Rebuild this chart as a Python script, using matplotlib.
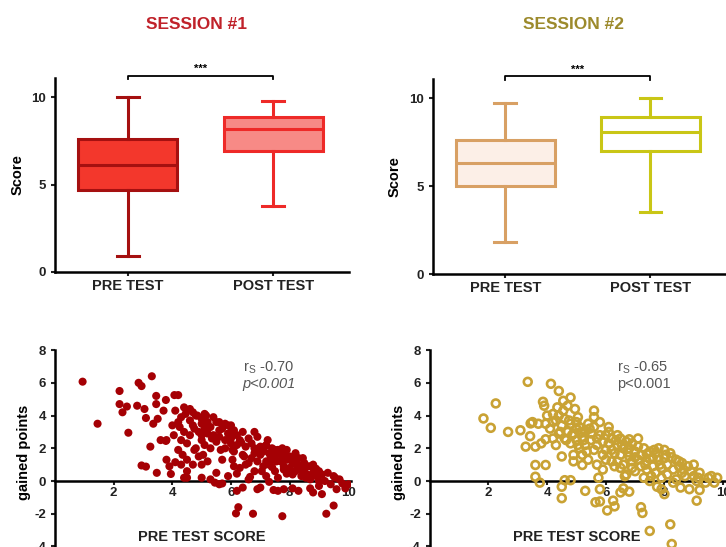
import matplotlib
matplotlib.use("Agg")
import matplotlib.pyplot as plt

plt.rcParams["font.family"] = ["Liberation Sans", "DejaVu Sans"]
plt.rcParams["axes.unicode_minus"] = False

# box summaries: whisker low, Q1, median, Q3, whisker high
groups = ["PRE TEST", "POST TEST"]
s1_pre = [0.9, 4.7, 6.1, 7.6, 10.0]
s1_post = [3.8, 6.9, 8.2, 8.9, 9.8]
s2_pre = [1.8, 5.0, 6.3, 7.6, 9.7]
s2_post = [3.5, 7.0, 8.1, 8.9, 10.0]

# session 1 scatter: pre test score vs gained points
pre1 = [0.94, 1.45, 2.2, 2.2, 2.3, 2.45, 2.5, 2.8, 2.85, 2.95, 3.05, 3.1, 2.95, 3.1, 3.25, 3.3,
        3.35, 3.45, 3.45, 3.5, 3.47, 3.6, 3.7, 3.78, 3.78, 3.8, 3.95, 4.07, 4.2, 4.0, 4.05, 4.1,
        4.1, 4.2, 4.25, 4.4, 4.45, 4.3, 4.35, 4.5, 4.5, 4.6, 4.7, 4.75, 4.75, 4.85, 5.0, 5.0,
        5.0, 5.05, 5.1, 5.2, 5.15, 5.35, 5.45, 5.5, 5.6, 5.65, 5.7, 5.8, 5.9, 6.0, 6.0, 6.05,
        6.05, 6.1, 6.2, 6.2, 6.17, 6.25, 6.35, 6.45, 6.6, 6.65, 6.75, 6.8, 6.8, 6.9, 7.0, 7.05,
        7.15, 7.2, 7.25, 7.3, 7.35, 7.4, 7.45, 7.5, 7.55, 7.75, 7.75, 7.8, 7.85, 7.9, 8.1, 8.15,
        8.25, 8.4, 8.45, 8.55, 8.6, 8.7, 8.8, 8.9, 9.0, 9.1, 9.25, 9.5, 9.55, 9.6, 9.8, 9.9, 10.0,
        4.3, 4.4, 4.5, 4.5, 4.6, 4.6, 4.7, 4.7, 4.8, 4.8, 4.9, 4.9, 5.0, 5.0, 5.1, 5.1, 5.2, 5.2,
        5.3, 5.3, 5.4, 5.4, 5.5, 5.5, 5.6, 5.6, 5.7, 5.7, 5.8, 5.8, 5.9, 5.9, 6.0, 6.0, 6.1, 6.1,
        6.2, 6.2, 6.3, 6.3, 6.4, 6.4, 6.5, 6.5, 6.6, 6.6, 6.7, 6.7, 6.8, 6.8, 6.9, 6.9, 7.0, 7.0,
        7.1, 7.1, 7.2, 7.2, 7.3, 7.3, 7.4, 7.4, 7.5, 7.5, 7.6, 7.6, 7.7, 7.7, 7.8, 7.8, 7.9, 7.9,
        8.0, 8.0, 8.1, 8.1, 8.2, 8.2, 8.3, 8.3, 8.4, 8.5, 8.5, 8.6, 8.7, 8.7, 8.8, 8.9, 9.0, 9.0,
        9.1, 9.2, 9.3, 9.4, 9.5, 9.7, 4.2, 4.3, 4.4, 3.9, 3.8, 5.0, 5.3, 5.6, 6.4, 6.9, 7.6, 8.3, 8.8]
gain1 = [6.07, 3.5, 5.5, 4.7, 4.2, 4.55, 2.95, 4.6, 6.0, 5.8, 4.4, 3.85, 0.95, 0.88, 2.1, 6.4,
         3.5, 5.2, 4.7, 3.8, 0.5, 2.5, 4.3, 4.95, 2.45, 1.3, 0.43, 5.25, 5.25, 3.4, 2.8, 4.3,
         1.15, 1.9, 3.3, 4.5, 4.1, 2.5, 1.6, 0.6, 0.2, 3.7, 4.2, 3.2, 1.9, 4.0, 3.8, 2.5,
         0.2, 1.6, 3.2, 2.9, 4.0, 2.6, -0.1, 3.6, 3.1, 1.9, -0.15, 2.5, 3.4, 3.0, 2.3, 1.9,
         1.3, 0.9, -0.6, 0.45, -1.98, -1.6, 2.35, 1.5, 1.1, 0.25, -2.0, 3.0, 1.7, 1.9, -0.4, 0.6,
         2.1, 1.2, 2.5, -0.05, 1.5, 0.85, -0.55, 1.9, 1.2, -2.15, 2.0, 0.7, 1.6, 0.45, -0.45, 1.3,
         0.9, 0.7, 1.4, 0.2, 0.9, -0.45, 0.5, 0.75, 0.0, -0.8, -2.0, -1.5, 0.2, -0.5, -0.15, -0.45, -0.2,
         3.9, 3.0, 2.3, 1.3, 4.4, 2.8, 1.0, 3.4, 2.0, 4.0, 3.0, 1.5, 3.5, 2.8, 4.1, 2.2, 3.6, 1.2,
         3.3, 2.0, 2.8, 3.9, 2.4, 0.5, 3.6, 2.7, 3.2, 1.3, 3.5, 2.0, 2.9, 0.3, 3.4, 2.6, 3.1, 1.8,
         2.8, 2.2, 2.5, 0.8, 3.0, 1.6, 2.1, 1.0, 2.6, 0.1, 1.4, 2.3, 2.0, 0.6, 1.2, 2.7, 2.1, 1.6,
         0.9, 1.8, 2.2, 0.3, 1.7, 1.0, 1.3, 2.0, 0.6, 1.5, 1.9, 0.2, 1.2, 1.6, 0.9, -0.5, 1.3, 1.9,
         0.8, 1.5, 0.4, 1.1, 1.7, 0.6, 1.0, 1.4, 0.3, 1.1, 0.6, 0.4, 0.9, 0.1, 1.0, 0.3, 0.6, -0.3,
         0.4, 0.0, 0.5, -0.2, 0.3, 0.1, 3.6, 1.0, 0.2, 0.9, 2.5, 1.0, 0.1, -0.2, -0.4, -0.5, -0.6, -0.6, -0.7]

# session 2 scatter
pre2 = [1.83, 2.08, 2.25, 2.67, 3.09, 3.27, 3.34, 3.44, 3.42, 3.6, 3.6, 3.6, 3.75, 3.86, 3.9, 3.95,
        3.95, 3.95, 4.13, 4.2, 4.3, 4.35, 4.4, 4.45, 4.5, 4.55, 4.55, 4.5, 4.6, 4.65, 4.75, 4.8,
        4.8, 4.85, 4.9, 4.95, 5.0, 5.05, 5.05, 5.15, 5.2, 5.25, 5.35, 5.45, 5.6, 5.6, 5.65, 5.7,
        5.75, 5.8, 5.8, 5.9, 6.0, 6.05, 6.1, 6.2, 6.25, 6.3, 6.35, 6.4, 6.5, 6.55, 6.6, 6.65,
        6.75, 6.8, 6.8, 6.9, 7.0, 7.1, 7.2, 7.25, 7.35, 7.4, 7.5, 7.5, 7.55, 7.65, 7.75, 7.85,
        8.0, 8.05, 8.2, 8.25, 8.25, 8.3, 8.5, 8.55, 8.6, 8.65, 8.85, 9.0, 9.1, 9.15, 9.2,
        4.0, 4.1, 4.2, 4.2, 4.3, 4.4, 4.4, 4.5, 4.5, 4.6, 4.6, 4.7, 4.7, 4.8, 4.8, 4.9, 4.9, 5.0,
        5.0, 5.1, 5.1, 5.2, 5.2, 5.3, 5.3, 5.4, 5.4, 5.5, 5.5, 5.6, 5.6, 5.7, 5.7, 5.8, 5.8, 5.9,
        5.9, 6.0, 6.0, 6.1, 6.1, 6.2, 6.2, 6.3, 6.3, 6.4, 6.4, 6.5, 6.5, 6.6, 6.6, 6.7, 6.7, 6.8,
        6.8, 6.9, 6.9, 7.0, 7.0, 7.1, 7.1, 7.2, 7.2, 7.3, 7.3, 7.4, 7.4, 7.5, 7.5, 7.6, 7.6, 7.7,
        7.7, 7.8, 7.8, 7.9, 7.9, 8.0, 8.0, 8.1, 8.1, 8.2, 8.3, 8.4, 8.4, 8.5, 8.6, 8.7, 8.8, 8.9,
        9.0, 9.1, 9.2, 9.4, 9.5, 9.6, 9.8, 9.7, 3.7, 3.5, 3.8, 5.3, 6.5, 7.9]
gain2 = [3.82, 3.25, 4.74, 3.0, 3.1, 2.1, 6.06, 3.52, 2.74, 2.1, 0.98, 0.26, -0.1, 4.84, 4.6, 3.5,
         0.98, 2.55, 5.94, 4.1, 3.7, 4.5, 5.5, 3.0, -0.35, 4.3, 4.9, -1.05, 0.05, 2.5, 3.7, 5.1,
         0.05, 2.8, 1.6, 4.4, 3.2, 2.2, 3.9, 3.0, 0.98, 2.5, 1.8, 3.2, 3.9, 4.3, -1.3, 2.6,
         0.2, -0.5, -1.25, 1.6, 1.9, -1.8, 3.0, 1.2, -1.2, -1.55, 2.5, 2.8, 0.8, 2.2, -0.45, 0.3,
         1.75, 2.55, -0.65, 0.8, 1.45, 2.6, -1.6, -1.95, 1.0, 1.65, 1.35, -3.05, 0.3, 1.9, -0.35, 1.0,
         -0.8, 1.6, -2.65, -3.85, 1.45, -0.1, 1.2, -0.4, 0.5, 0.7, -0.5, 0.3, -1.2, 0.2, -0.55,
         4.0, 3.2, 2.6, 3.6, 2.2, 4.0, 2.9, 3.4, 1.5, 3.8, 2.6, 3.0, 4.6, 2.3, 3.5, 2.9, 1.2, 3.6,
         2.5, 2.0, 3.3, 2.7, 1.6, 3.0, 2.2, 3.5, 1.3, 2.5, 2.9, 1.9, 3.3, 2.2, 1.0, 2.8, 3.6, 2.4,
         0.7, 2.8, 1.3, 2.3, 3.3, 1.9, 2.6, 0.9, 1.7, 2.2, 1.2, 2.6, 1.6, 1.0, 2.0, 2.4, 0.4, 1.5,
         2.0, 1.2, 2.3, 1.8, 0.6, 1.3, 2.1, 0.9, 1.6, 2.0, 0.2, 1.2, 0.7, 1.8, 0.0, 1.4, 0.9, 1.7,
         0.5, 1.3, 2.0, 0.8, 0.2, 1.4, 1.9, 1.0, 0.4, 1.7, 0.7, 1.3, 0.1, 0.9, 1.1, 0.3, 0.9, 0.6,
         1.0, 0.0, 0.5, -0.1, 0.2, 0.3, 0.2, -0.1, 3.5, 3.6, 2.3, -0.6, -0.7, -0.5]

RED_TITLE = "#c0222a"
GOLD_TITLE = "#9c8a2c"

fig = plt.figure(figsize=(7.26, 5.47), dpi=100)


def style_axes(ax):
    for side in ["top", "right"]:
        ax.spines[side].set_visible(False)
    for side in ["left", "bottom"]:
        ax.spines[side].set_linewidth(1.8)
    ax.tick_params(direction="out", length=3, width=1.5, labelsize=9.5, colors="#222222")
    for lab in ax.get_xticklabels() + ax.get_yticklabels():
        lab.set_fontweight("bold")


def box_panel(rect, pre, post, faces, edges):
    ax = fig.add_axes(rect)
    stats = []
    for name, s in zip(groups, [pre, post]):
        stats.append(dict(label=name, whislo=s[0], q1=s[1], med=s[2], q3=s[3], whishi=s[4]))
    parts = ax.bxp(stats, positions=[1, 2], widths=0.68, capwidths=0.15, patch_artist=True,
                   showfliers=False)
    for i in range(2):
        parts["boxes"][i].set_facecolor(faces[i])
        parts["boxes"][i].set_edgecolor(edges[i])
        parts["boxes"][i].set_linewidth(2.2)
        parts["medians"][i].set_color(edges[i])
        parts["medians"][i].set_linewidth(2.2)
        for j in (2 * i, 2 * i + 1):
            parts["whiskers"][j].set_color(edges[i])
            parts["whiskers"][j].set_linewidth(2.2)
            parts["caps"][j].set_color(edges[i])
            parts["caps"][j].set_linewidth(2.2)
    ax.set_xlim(0.5, 2.52)
    ax.set_ylim(0, 11.1)
    ax.set_yticks([0, 5, 10])
    ax.set_ylabel("Score", fontsize=10.5, fontweight="bold", labelpad=5)
    style_axes(ax)
    ax.tick_params(axis="x", length=3, labelsize=10.5, pad=2)
    # significance bracket
    ax.plot([1, 1, 2, 2], [11.05, 11.25, 11.25, 11.05], color="black", lw=1.3, clip_on=False)
    ax.text(1.5, 11.35, "***", ha="center", va="bottom", fontsize=8, fontweight="bold")
    return ax


def scatter_panel(rect, x, y, filled, color, rtxt, ptxt, pstyle):
    ax = fig.add_axes(rect)
    if filled:
        ax.scatter(x, y, s=34, color=color, edgecolors="none", zorder=3)
    else:
        ax.scatter(x, y, s=32, facecolors="none", edgecolors=color, linewidths=1.9, zorder=3)
    ax.set_xlim(0, 10.1)
    ax.set_ylim(-4.5, 8)
    ax.spines["bottom"].set_position(("data", 0))
    ax.set_xticks([2, 4, 6, 8, 10])
    ax.set_yticks([-4, -2, 0, 2, 4, 6, 8])
    ax.set_ylabel("gained points", fontsize=10.5, fontweight="bold", labelpad=2)
    style_axes(ax)
    ax.tick_params(axis="x", pad=1)
    ax.text(5.0, -3.4, "PRE TEST SCORE", ha="center", va="center", fontsize=10.5,
            fontweight="bold", color="#222222")
    ax.text(6.4, 6.9, rtxt, fontsize=10.5, color="#555555", va="center")
    ax.text(6.4, 5.9, ptxt, fontsize=10.5, color="#555555", va="center", style=pstyle)
    return ax


box_panel([0.0758, 0.503, 0.405, 0.354], s1_pre, s1_post,
          ["#f3372c", "#f78a86"], ["#a51010", "#ee2a28"])
box_panel([0.596, 0.499, 0.404, 0.357], s2_pre, s2_post,
          ["#fcefe7", "#ffffff"], ["#d8a064", "#c9c616"])

scatter_panel([0.0758, -0.014, 0.408, 0.374], pre1, gain1, True, "#a50004",
              r"r$_\mathregular{S}$ -0.70", "p<0.001", "italic")
scatter_panel([0.592, -0.014, 0.408, 0.374], pre2, gain2, False, "#c9a234",
              r"r$_\mathregular{S}$ -0.65", "p<0.001", "normal")

fig.text(0.27, 0.955, "SESSION #1", ha="center", va="center", fontsize=12.5,
         fontweight="bold", color=RED_TITLE)
fig.text(0.79, 0.955, "SESSION #2", ha="center", va="center", fontsize=12.5,
         fontweight="bold", color=GOLD_TITLE)

fig.savefig("out.png", dpi=100)
